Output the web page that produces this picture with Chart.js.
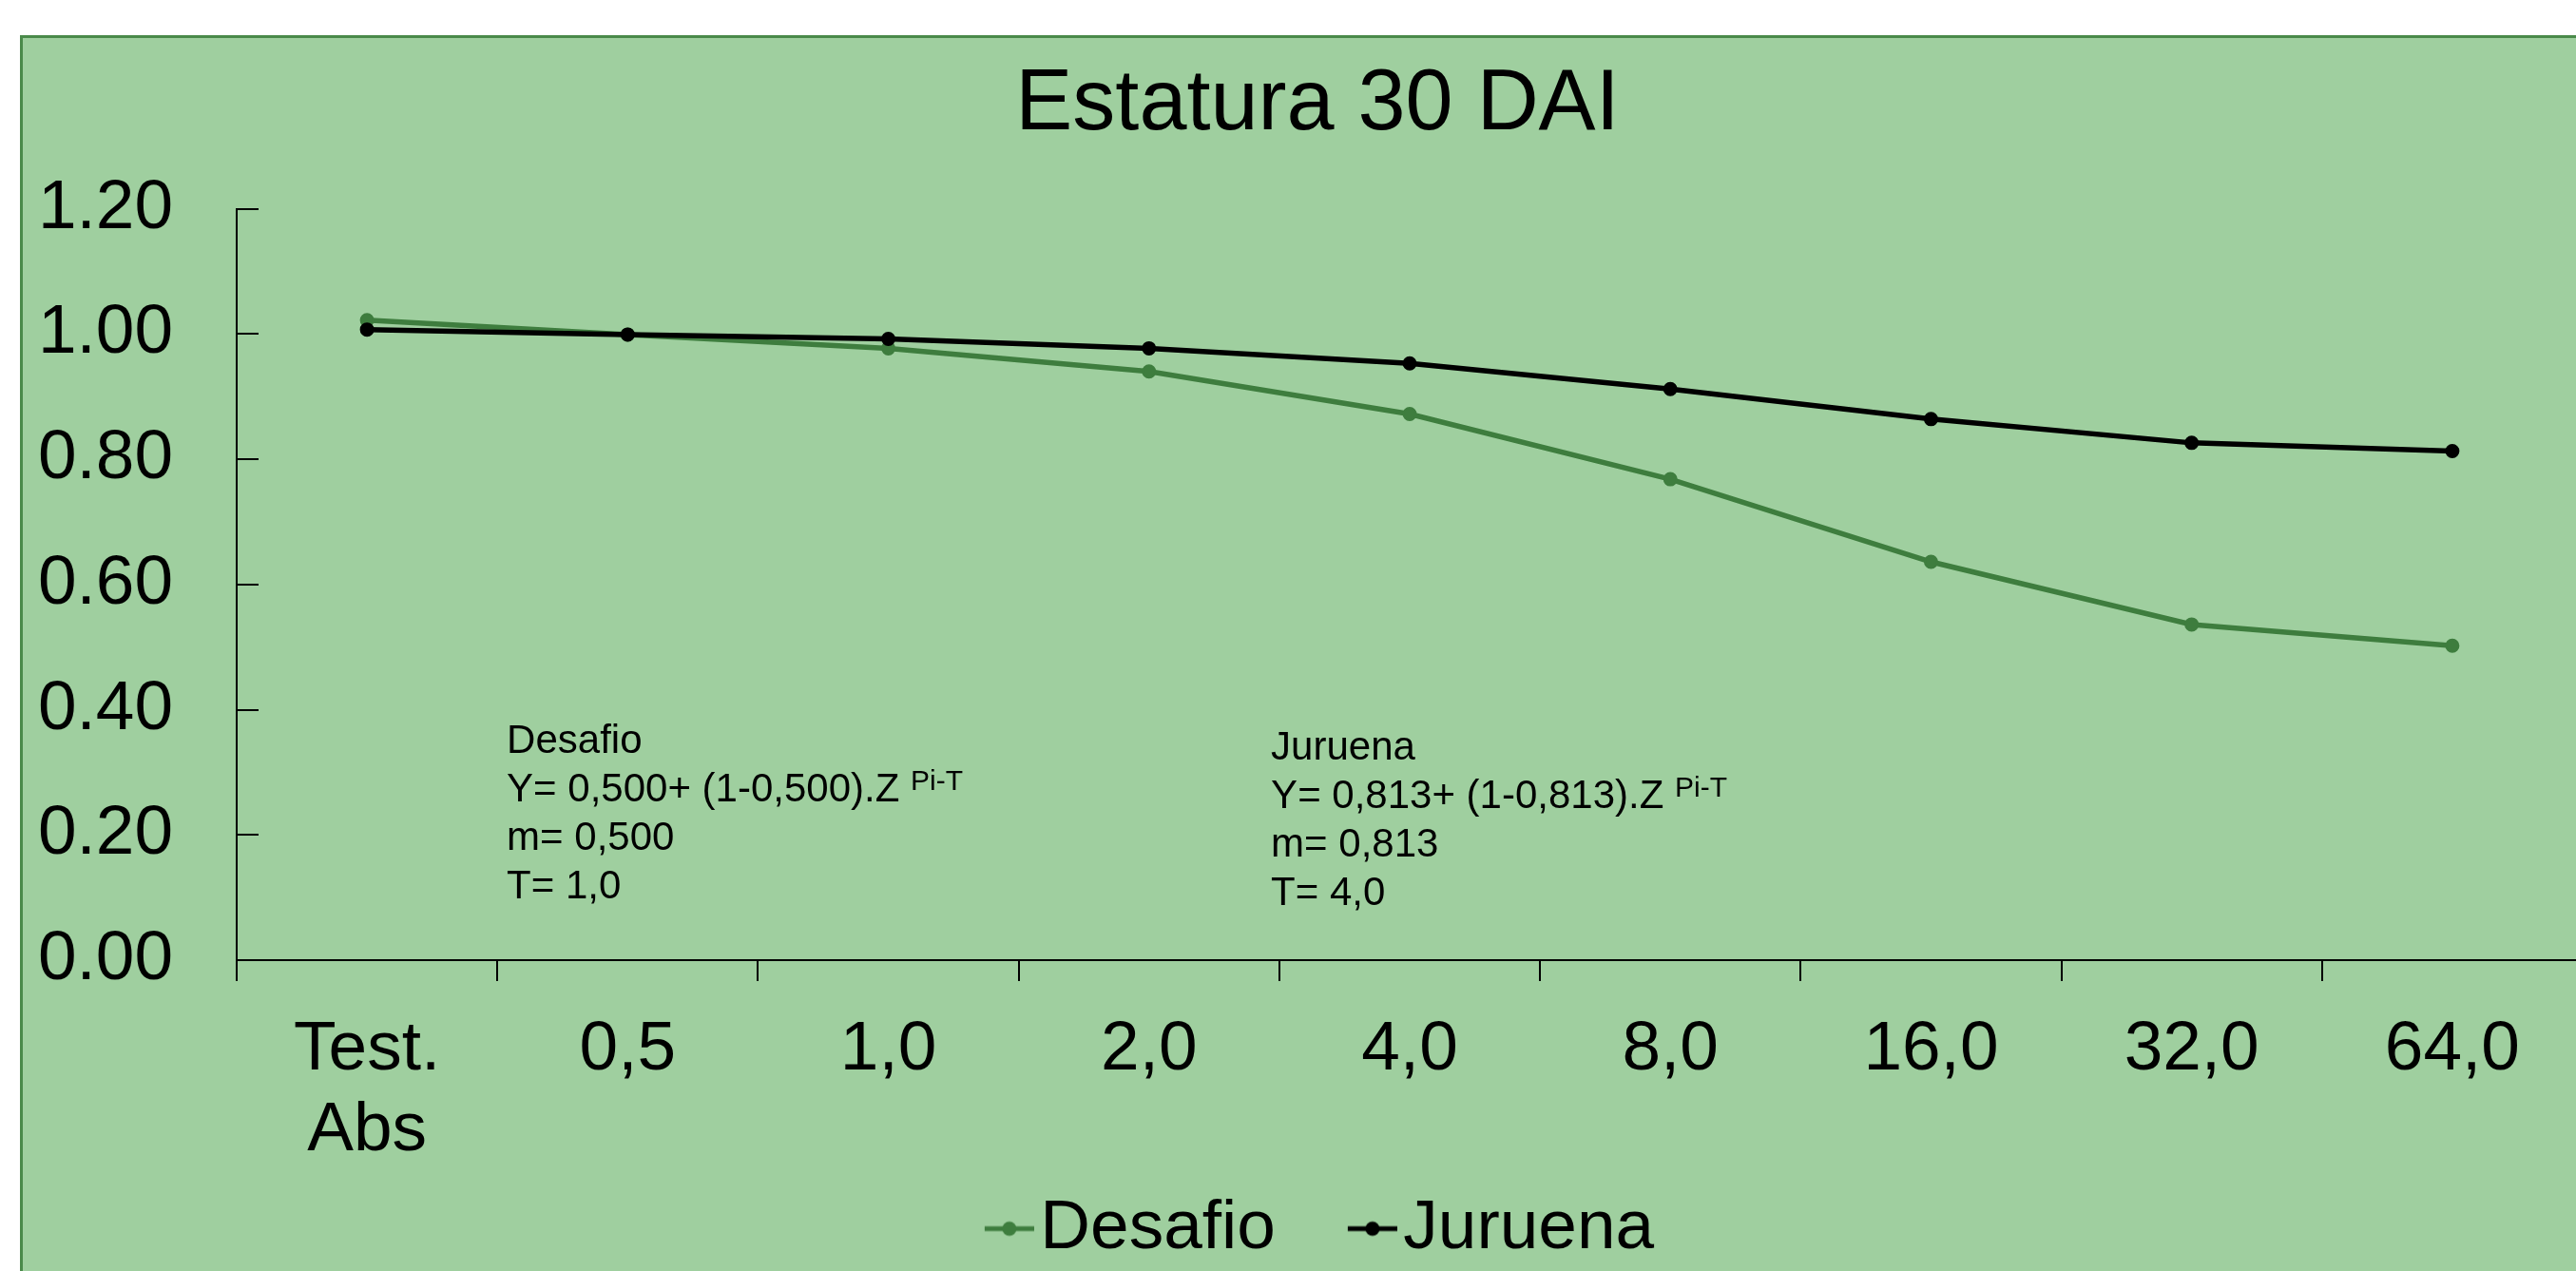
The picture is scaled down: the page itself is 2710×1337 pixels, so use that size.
<!DOCTYPE html>
<html lang="pt">
<head>
<meta charset="UTF-8">
<title>Estatura 30 DAI</title>
<script src="https://cdn.jsdelivr.net/npm/chart.js"></script>
<style>
  html, body { margin: 0; padding: 0; background: #fff; overflow: hidden; width: 2710px; height: 1337px; }
  #frame { position: absolute; left: 21px; top: 37px; width: 2800px; height: 1400px;
           background: #9fcf9f; border-left: 3px solid #4a8a4a; border-top: 3px solid #4a8a4a; }
  #chart { position: absolute; left: 0; top: 0; }
</style>
</head>
<body>
<div id="frame"><canvas id="chart" width="2716" height="1299"></canvas></div>
<script>
// eixo X: doses
var doses = [['Test.', 'Abs'], '0,5', '1,0', '2,0', '4,0', '8,0', '16,0', '32,0', '64,0'];
// estatura relativa
var desafio = [1.022, 0.999, 0.977, 0.940, 0.872, 0.768, 0.636, 0.536, 0.502];
var juruena = [1.007, 0.999, 0.992, 0.977, 0.953, 0.912, 0.864, 0.826, 0.813];
var yTicks = [0, 0.2, 0.4, 0.6, 0.8, 1.0, 1.2];

// equacoes ajustadas
var notaDesafio = ['Desafio', 'Y= 0,500+ (1-0,500).Z', 'm= 0,500', 'T= 1,0'];
var notaJuruena = ['Juruena', 'Y= 0,813+ (1-0,813).Z', 'm= 0,813', 'T= 4,0'];
var expoente = 'Pi-T';

var FONTE = '"Liberation Sans", Arial, sans-serif';
var VERDE = '#3e7d3e';
Chart.defaults.font.family = FONTE;

// simbolo da legenda: linha com ponto (encostado no texto)
function marcador(cor) {
    var c = document.createElement('canvas');
    c.width = 120; c.height = 20;
    var g = c.getContext('2d');
    g.strokeStyle = cor; g.lineWidth = 5;
    g.beginPath(); g.moveTo(68, 10); g.lineTo(120, 10); g.stroke();
    g.fillStyle = cor;
    g.beginPath(); g.arc(94, 10, 7.5, 0, Math.PI * 2); g.fill();
    return c;
}
var marcadores = [marcador(VERDE), marcador('#000')];

// ticks do eixo Y para dentro
var yTickMarks = {
    id: 'yTickMarks',
    afterDatasetsDraw: function(chart) {
        var y = chart.scales.y, ctx = chart.ctx, left = chart.chartArea.left;
        ctx.save();
        ctx.strokeStyle = '#000';
        ctx.lineWidth = 2;
        y.ticks.forEach(function(t) {
            var py = Math.round(y.getPixelForValue(t.value));
            ctx.beginPath();
            ctx.moveTo(left, py);
            ctx.lineTo(left + 23, py);
            ctx.stroke();
        });
        ctx.restore();
    }
};

// pequenos ajustes horizontais de titulo e legenda
var boxShift = {
    id: 'boxShift',
    afterLayout: function(chart, args, opts) {
        chart.legend.left += opts.legend;
        chart.legend.right += opts.legend;
        chart.titleBlock.left += opts.title;
        chart.titleBlock.right += opts.title;
    }
};

// caixas de texto com as equacoes
var notas = {
    id: 'notas',
    afterDatasetsDraw: function(chart, args, opts) {
        var ctx = chart.ctx, xs = chart.scales.x, ys = chart.scales.y;
        opts.blocos.forEach(function(b) {
            var x = xs.getPixelForValue(b.x);
            var y = ys.getPixelForValue(b.y);
            ctx.save();
            ctx.fillStyle = '#000';
            ctx.textAlign = 'left';
            ctx.textBaseline = 'alphabetic';
            b.linhas.forEach(function(txt, i) {
                var yy = y + i * 51;
                ctx.font = '42px ' + FONTE;
                ctx.fillText(txt, x, yy);
                if (i === 1) {
                    var w = ctx.measureText(txt + ' ').width;
                    ctx.font = '30px ' + FONTE;
                    ctx.fillText(expoente, x + w, yy - 12);
                }
            });
            ctx.restore();
        });
    }
};

var ctx = document.getElementById('chart').getContext('2d');
var chart = new Chart(ctx, {
    type: 'line',
    data: {
        labels: doses,
        datasets: [
            {
                label: 'Desafio',
                data: desafio,
                borderColor: VERDE,
                backgroundColor: VERDE,
                pointBackgroundColor: VERDE,
                pointBorderColor: VERDE,
                borderWidth: 5.5,
                pointRadius: 6.5,
                pointBorderWidth: 2,
                tension: 0,
                order: 1
            },
            {
                label: 'Juruena',
                data: juruena,
                borderColor: '#000',
                backgroundColor: '#000',
                pointBackgroundColor: '#000',
                pointBorderColor: '#000',
                borderWidth: 5.5,
                pointRadius: 6.5,
                pointBorderWidth: 2,
                tension: 0,
                order: 0
            }
        ]
    },
    options: {
        responsive: false,
        animation: false,
        devicePixelRatio: 1,
        layout: { padding: { left: 17, right: 23, top: 0, bottom: 0 } },
        scales: {
            x: {
                offset: true,
                grid: { display: true, offset: true, drawOnChartArea: false, drawTicks: true,
                        tickLength: 22, color: '#000', lineWidth: 2 },
                border: { display: true, color: '#000', width: 2 },
                ticks: { color: '#000', font: { size: 73, lineHeight: 1.17 }, padding: 30,
                         maxRotation: 0, autoSkip: false },
                afterFit: function(s) { s.height = 208; }
            },
            y: {
                min: 0,
                max: 1.2,
                grid: { display: true, drawOnChartArea: false, drawTicks: false },
                border: { display: true, color: '#000', width: 2 },
                ticks: {
                    color: '#000', font: { size: 73 }, padding: 67,
                    callback: function(v) { return Number(v).toFixed(2); }
                },
                afterBuildTicks: function(s) { s.ticks = yTicks.map(function(v) { return { value: v }; }); },
                afterFit: function(s) { s.width = 208; }
            }
        },
        plugins: {
            title: {
                display: true,
                text: 'Estatura 30 DAI',
                color: '#000',
                font: { size: 90, weight: 'normal' },
                padding: { top: 17, bottom: 54.5 }
            },
            legend: {
                position: 'bottom',
                labels: {
                    color: '#000',
                    font: { size: 73 },
                    usePointStyle: true,
                    pointStyleWidth: 60,
                    padding: 38,
                    generateLabels: function(chart) {
                        var items = Chart.defaults.plugins.legend.labels.generateLabels(chart);
                        items.sort(function(a, b) { return a.datasetIndex - b.datasetIndex; });
                        items.forEach(function(it) { it.pointStyle = marcadores[it.datasetIndex]; });
                        return items;
                    }
                }
            },
            boxShift: { legend: -10, title: 7 },
            tooltip: { enabled: false },
            notas: {
                blocos: [
                    { linhas: notaDesafio, x: 0.536, y: 0.331 },
                    { linhas: notaJuruena, x: 3.468, y: 0.321 }
                ]
            }
        }
    },
    plugins: [yTickMarks, boxShift, notas]
});
</script>
</body>
</html>
